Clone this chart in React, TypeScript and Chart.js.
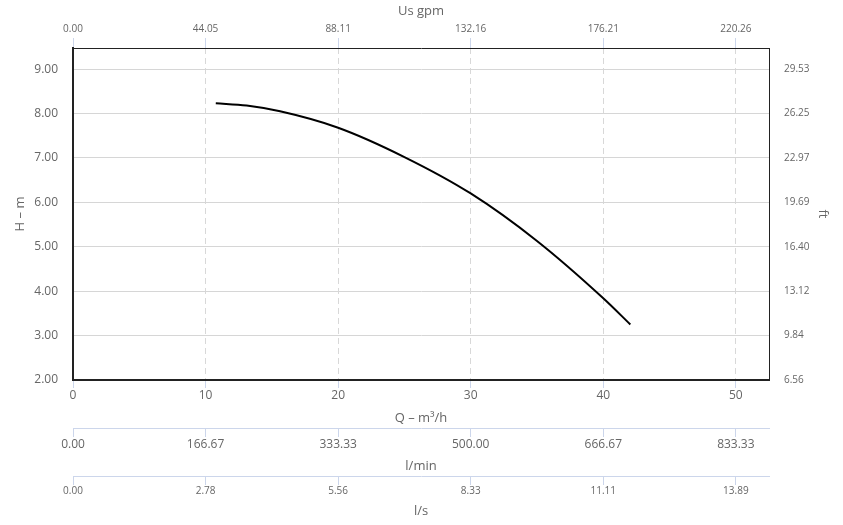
import React, { useEffect, useRef } from "react";
import { Chart, registerables } from "chart.js";

Chart.register(...registerables);

// Pump curve Q (m³/h) vs H (m)
const flowQ = [10.77, 13.1, 15.62, 20.0, 25.0, 30.0, 35.0, 40.0, 42.04];
const headH = [8.23, 8.18, 8.05, 7.68, 7.02, 6.2, 5.13, 3.84, 3.25];

const xTicks = [0, 10, 20, 30, 40, 50];
const xLabels = ["0", "10", "20", "30", "40", "50"];
const gpmLabels = ["0.00", "44.05", "88.11", "132.16", "176.21", "220.26"];
const lminLabels = ["0.00", "166.67", "333.33", "500.00", "666.67", "833.33"];
const lsLabels = ["0.00", "2.78", "5.56", "8.33", "11.11", "13.89"];

const yTicks = [2, 3, 4, 5, 6, 7, 8, 9];
const yLabels = ["2.00", "3.00", "4.00", "5.00", "6.00", "7.00", "8.00", "9.00"];
const ftLabels = ["6.56", "9.84", "13.12", "16.40", "19.69", "22.97", "26.25", "29.53"];

const X_MIN = 0;
const X_MAX = 52.5;
const Y_MIN = 2;
const Y_MAX = 9.475;

const FONT = "'Open Sans', 'DejaVu Sans', sans-serif";
const TEXT = "#666666";
const AXIS_BLUE = "#ccd6eb";

export default function App() {
  const ref = useRef<HTMLCanvasElement | null>(null);

  useEffect(() => {
    if (!ref.current) return;
    const setTicks = (vals: number[]) => (scale: any) => {
      scale.ticks = vals.map((v) => ({ value: v }));
    };
    const fixW = (w: number) => (scale: any) => {
      scale.width = w;
    };
    const fixH = (h: number) => (scale: any) => {
      scale.height = h;
    };

    const chart = new Chart(ref.current, {
      type: "line",
      data: {
        datasets: [
          {
            data: flowQ.map((q, i) => ({ x: q, y: headH[i] })),
            borderColor: "#000000",
            borderWidth: 2,
            pointRadius: 0,
            fill: false,
            cubicInterpolationMode: "monotone",
            xAxisID: "x",
            yAxisID: "y",
          },
        ],
      },
      options: {
        animation: false,
        responsive: false,
        maintainAspectRatio: false,
        layout: { padding: 0 },
        plugins: {
          legend: { display: false },
          tooltip: { enabled: false },
          title: { display: false },
        },
        scales: {
          x: {
            type: "linear",
            position: "bottom",
            min: X_MIN,
            max: X_MAX,
            afterBuildTicks: setTicks(xTicks),
            afterFit: fixH(48),
            grid: {
              display: true,
              drawOnChartArea: true,
              drawTicks: true,
              tickLength: 8,
              color: "#d8d8d8",
              lineWidth: 1,
              tickColor: AXIS_BLUE,
            },
            border: { display: true, color: "#222222", width: 2, dash: [6, 4] },
            ticks: {
              padding: 0,
              color: TEXT,
              font: { family: FONT, size: 12 },
              maxRotation: 0,
              callback: (_v: any, i: number) => xLabels[i],
            },
            title: {
              display: true,
              text: "Q – m³/h",
              color: TEXT,
              font: { family: FONT, size: 13 },
              padding: { top: 0, bottom: 2 },
            },
          },
          lmin: {
            type: "linear",
            position: "bottom",
            min: X_MIN,
            max: X_MAX,
            afterBuildTicks: setTicks(xTicks),
            afterFit: fixH(48),
            grid: {
              display: true,
              drawOnChartArea: false,
              drawTicks: true,
              tickLength: 9,
              tickColor: AXIS_BLUE,
              color: AXIS_BLUE,
            },
            border: { display: true, color: AXIS_BLUE, width: 1 },
            ticks: {
              padding: 0,
              color: TEXT,
              font: { family: FONT, size: 12 },
              maxRotation: 0,
              callback: (_v: any, i: number) => lminLabels[i],
            },
            title: {
              display: true,
              text: "l/min",
              color: TEXT,
              font: { family: FONT, size: 13 },
              padding: { top: 0, bottom: 2 },
            },
          },
          ls: {
            type: "linear",
            position: "bottom",
            min: X_MIN,
            max: X_MAX,
            afterBuildTicks: setTicks(xTicks),
            afterFit: fixH(49),
            grid: {
              display: true,
              drawOnChartArea: false,
              drawTicks: true,
              tickLength: 9,
              tickColor: AXIS_BLUE,
              color: AXIS_BLUE,
            },
            border: { display: true, color: AXIS_BLUE, width: 1 },
            ticks: {
              padding: 0,
              color: TEXT,
              font: { family: FONT, size: 10 },
              maxRotation: 0,
              callback: (_v: any, i: number) => lsLabels[i],
            },
            title: {
              display: true,
              text: "l/s",
              color: TEXT,
              font: { family: FONT, size: 13 },
              padding: { top: 0, bottom: 6 },
            },
          },
          gpm: {
            type: "linear",
            position: "top",
            min: X_MIN,
            max: X_MAX,
            afterBuildTicks: setTicks(xTicks),
            afterFit: fixH(48),
            grid: {
              display: true,
              drawOnChartArea: false,
              drawTicks: true,
              tickLength: 10,
              tickColor: AXIS_BLUE,
              color: AXIS_BLUE,
            },
            border: { display: true, color: "#222222", width: 1 },
            ticks: {
              padding: 3,
              color: TEXT,
              font: { family: FONT, size: 10 },
              maxRotation: 0,
              callback: (_v: any, i: number) => gpmLabels[i],
            },
            title: {
              display: true,
              text: "Us gpm",
              color: TEXT,
              font: { family: FONT, size: 13 },
              padding: { top: 3, bottom: 0 },
            },
          },
          y: {
            type: "linear",
            position: "left",
            min: Y_MIN,
            max: Y_MAX,
            afterBuildTicks: setTicks(yTicks),
            afterFit: fixW(73),
            grid: {
              display: true,
              drawOnChartArea: true,
              drawTicks: false,
              color: "#d6d6d6",
              lineWidth: 1,
            },
            border: { display: true, color: "#222222", width: 2 },
            ticks: {
              padding: 15,
              color: TEXT,
              font: { family: FONT, size: 12 },
              callback: (_v: any, i: number) => yLabels[i],
            },
            title: {
              display: true,
              text: "H – m",
              color: TEXT,
              font: { family: FONT, size: 13 },
              padding: { top: 12, bottom: 0 },
            },
          },
          ft: {
            type: "linear",
            position: "right",
            min: Y_MIN,
            max: Y_MAX,
            afterBuildTicks: setTicks(yTicks),
            afterFit: fixW(74),
            grid: {
              display: true,
              drawOnChartArea: false,
              drawTicks: false,
            },
            border: { display: true, color: "#222222", width: 1 },
            ticks: {
              padding: 15,
              color: TEXT,
              font: { family: FONT, size: 10 },
              callback: (_v: any, i: number) => ftLabels[i],
            },
            title: {
              display: true,
              text: "ft",
              color: TEXT,
              font: { family: FONT, size: 13 },
              padding: { top: 12, bottom: 0 },
            },
          },
        },
      },
    } as any);

    return () => chart.destroy();
  }, []);

  return (
    <div style={{ position: "fixed", left: 0, top: 0, width: 843, height: 525, background: "#ffffff" }}>
      <canvas ref={ref} width={843} height={525} style={{ display: "block", width: 843, height: 525 }} />
    </div>
  );
}
